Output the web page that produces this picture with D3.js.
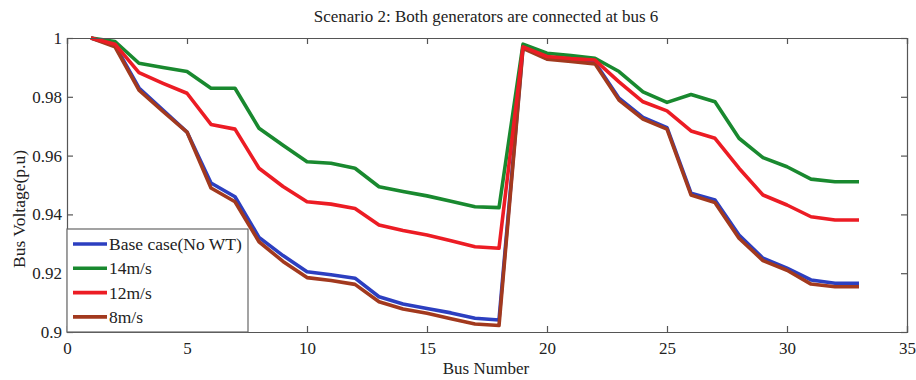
<!DOCTYPE html>
<html>
<head>
<meta charset="utf-8">
<script src="https://cdn.jsdelivr.net/npm/d3@7"></script>
<style>
  body { margin: 0; background: #fff; }
  svg text { font-family: "Liberation Serif", "Times New Roman", serif; fill: #222; }
</style>
</head>
<body>
<div id="chart"></div>
<script>
// bus numbers 1..33
let buses = d3.range(1, 34);

let baseCase = [1.0, 0.9975, 0.983, 0.9755, 0.968, 0.9507, 0.946, 0.9322, 0.926, 0.9205, 0.9195, 0.9183,
    0.912, 0.9095, 0.908, 0.9065, 0.9047, 0.9041, 0.997, 0.993, 0.9925, 0.9917, 0.9795, 0.973, 0.9695,
    0.9472, 0.9449, 0.933, 0.9251, 0.9217, 0.9177, 0.9166, 0.9166];
let wind14 = [1.0, 0.9988, 0.9914, 0.99, 0.9886, 0.9829, 0.9829, 0.9693, 0.9635, 0.9579, 0.9574, 0.9557,
    0.9494, 0.9478, 0.9463, 0.9445, 0.9426, 0.9423, 0.9979, 0.9948, 0.994, 0.9931, 0.9886, 0.9817, 0.9781,
    0.9808, 0.9783, 0.9659, 0.9593, 0.9562, 0.952, 0.9511, 0.9511];
let wind12 = [1.0, 0.9979, 0.9882, 0.9846, 0.9812, 0.9706, 0.969, 0.9557, 0.9495, 0.9443, 0.9435, 0.942,
    0.9364, 0.9345, 0.933, 0.931, 0.929, 0.9285, 0.997, 0.9937, 0.993, 0.9925, 0.9851, 0.9783, 0.9752,
    0.9684, 0.9659, 0.9557, 0.9466, 0.9432, 0.9392, 0.9381, 0.9381];
let wind8 = [1.0, 0.997, 0.9823, 0.975, 0.968, 0.949, 0.9443, 0.9307, 0.924, 0.9185, 0.9175, 0.9162,
    0.9103, 0.9078, 0.9064, 0.9045, 0.9027, 0.9022, 0.9965, 0.9928, 0.992, 0.9912, 0.9789, 0.9724, 0.969,
    0.9466, 0.944, 0.9319, 0.9243, 0.921, 0.9163, 0.9154, 0.9154];

let seriesNames = ["Base case(No WT)", "14m/s", "12m/s", "8m/s"];
let seriesColors = ["#2c3fc0", "#19892f", "#ec1c24", "#a2391e"];
let seriesValues = [baseCase, wind14, wind12, wind8];

let xTicks = [0, 5, 10, 15, 20, 25, 30, 35];
let yTicks = [0.9, 0.92, 0.94, 0.96, 0.98, 1];

let width = 916, height = 380;
let margin = { left: 67, top: 38, right: 9, bottom: 48 };
let serif = "'Liberation Serif', 'Times New Roman', serif";

let svg = d3.select("#chart")
    .append("svg")
    .attr("width", width)
    .attr("height", height)
    .attr("font-family", serif);

let x = d3.scaleLinear().domain([0, 35]).range([margin.left, width - margin.right]);
let y = d3.scaleLinear().domain([0.9, 1]).range([height - margin.bottom, margin.top]);

let axisColor = "#555";

// series lines (brown over blue, red over green)
let line = d3.line()
    .x((d, i) => x(buses[i]))
    .y((d) => y(d));

let drawOrder = [0, 1, 3, 2];
drawOrder.forEach(function(k) {
    svg.append("path")
        .datum(seriesValues[k])
        .attr("d", line)
        .attr("fill", "none")
        .attr("stroke", seriesColors[k])
        .attr("stroke-width", 3.6)
        .attr("stroke-linejoin", "round");
});

// axes with inward ticks on all four sides
let xAxis = svg.append("g")
    .attr("transform", "translate(0," + y(0.9) + ")")
    .call(d3.axisBottom(x).tickValues(xTicks).tickSize(-6).tickPadding(10).tickFormat(d3.format("d")));
let xTop = svg.append("g")
    .attr("transform", "translate(0," + y(1) + ")")
    .call(d3.axisTop(x).tickValues(xTicks).tickSize(-6).tickFormat(""));
let yAxis = svg.append("g")
    .attr("transform", "translate(" + x(0) + ",0)")
    .call(d3.axisLeft(y).tickValues(yTicks).tickSize(-6).tickPadding(5).tickFormat((d) => d === 1 ? "1" : d3.format(".2~f")(d)));
let yRight = svg.append("g")
    .attr("transform", "translate(" + x(35) + ",0)")
    .call(d3.axisRight(y).tickValues(yTicks).tickSize(-6).tickFormat(""));

[xAxis, xTop, yAxis, yRight].forEach(function(g) {
    g.attr("font-family", serif).attr("font-size", 17);
    g.select(".domain").attr("stroke", axisColor).attr("stroke-width", 1.2);
    g.selectAll(".tick line").attr("stroke", axisColor).attr("stroke-width", 1.2);
    g.selectAll(".tick text").attr("fill", "#222");
});

// titles
svg.append("text")
    .attr("x", 486)
    .attr("y", 22)
    .attr("text-anchor", "middle")
    .style("font-size", "17px")
    .text("Scenario 2: Both generators are connected at bus 6");

svg.append("text")
    .attr("x", 486)
    .attr("y", 374)
    .attr("text-anchor", "middle")
    .style("font-size", "17px")
    .text("Bus Number");

svg.append("text")
    .attr("transform", "translate(25,209) rotate(-90)")
    .attr("text-anchor", "middle")
    .style("font-size", "17.5px")
    .text("Bus Voltage(p.u)");

// legend
let legend = svg.append("g").attr("transform", "translate(" + x(0) + ",229)");
legend.append("rect")
    .attr("width", 181)
    .attr("height", y(0.9) - 229)
    .attr("fill", "#fff")
    .attr("stroke", "#666")
    .attr("stroke-width", 1.2);

let rows = legend.selectAll(".legend-row")
    .data(seriesNames)
    .enter()
    .append("g")
    .attr("class", "legend-row")
    .attr("transform", (d, i) => "translate(0," + (15 + 24.3 * i) + ")");

rows.append("line")
    .attr("x1", 6)
    .attr("x2", 40)
    .attr("stroke", (d, i) => seriesColors[i])
    .attr("stroke-width", 3.6);

rows.append("text")
    .attr("x", 42)
    .attr("y", 6)
    .style("font-size", "17.5px")
    .text((d) => d);
</script>
</body>
</html>
